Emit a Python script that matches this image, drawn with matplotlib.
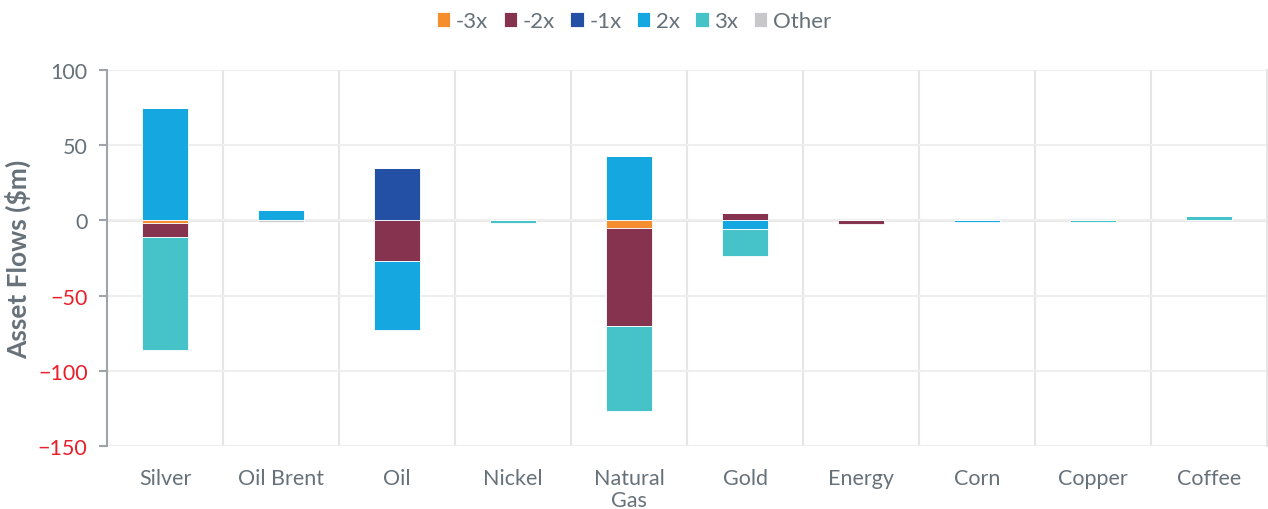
import numpy as np
import matplotlib.pyplot as plt
from matplotlib.ticker import MultipleLocator, FixedLocator

categories = ["Silver", "Oil Brent", "Oil", "Nickel", "Natural\nGas",
              "Gold", "Energy", "Corn", "Copper", "Coffee"]
series = ["-3x", "-2x", "-1x", "2x", "3x", "Other"]
flows = {
    "-3x":   [-2, 0, 0, 0, -5, 0, 0, 0, 0, 0],
    "-2x":   [-9, 0, -27, 0, -65, 5, -2.5, 0, 0, 0],
    "-1x":   [0, 0, 35, 0, 0, 0, 0, 0, 0, 0],
    "2x":    [75, 7, -46, 0, 43, -6, 0, -0.8, 0, 0],
    "3x":    [-75, 0, 0, -2, -57, -18, 0, 0, -0.8, 3],
    "Other": [0, -1, 0, 0, 0, 0, 0, 0, 0, 0],
}
colors = {"-3x": "#F68D2E", "-2x": "#85334F", "-1x": "#2350A5",
          "2x": "#14A7E0", "3x": "#46C2C9", "Other": "#C8C8CB"}

txt = "#66717A"
plt.rcParams['font.family'] = ['Lato', 'DejaVu Sans']

fig = plt.figure(figsize=(12.68, 5.10), dpi=100)
ax = fig.add_axes([0.0844, 0.1235, 0.9148, 0.7375])

x = np.arange(len(categories))
pos = np.zeros(len(categories))
neg = np.zeros(len(categories))
for s in series:
    v = np.array(flows[s], dtype=float)
    bottom = np.where(v >= 0, pos, neg)
    ax.bar(x, v, 0.4, bottom=bottom, color=colors[s], label=s,
           edgecolor="white", linewidth=0.6, zorder=3)
    pos += np.where(v >= 0, v, 0)
    neg += np.where(v < 0, v, 0)

ax.set_ylim(-150, 100)
ax.set_xlim(-0.5, len(categories) - 0.5)
ax.yaxis.set_major_locator(MultipleLocator(50))
ax.set_xticks(x)
ax.set_xticklabels(categories, fontsize=15.5, color=txt, linespacing=1.1)
ax.xaxis.set_minor_locator(FixedLocator(np.arange(0.5, len(categories), 1)))
ax.tick_params(axis="x", which="both", length=0, pad=16)
ax.tick_params(axis="y", length=6, width=1.5, color="#A0A4A8", labelsize=15.5, pad=8)
for lbl, val in zip(ax.get_yticklabels(), ax.get_yticks()):
    lbl.set_color("#E8202A" if val < 0 else txt)

ax.grid(axis="y", color="#EEEEEE", linewidth=1.5, zorder=0)
ax.grid(axis="x", which="minor", color="#E6E6E6", linewidth=1.5, zorder=0)
ax.axhline(0, color="#E6E6E6", linewidth=2, zorder=1)
for side in ["top", "bottom"]:
    ax.spines[side].set_visible(False)
ax.spines["right"].set_color("#E6E6E6")
ax.spines["right"].set_linewidth(1.5)
ax.spines["left"].set_color("#A0A4A8")
ax.spines["left"].set_linewidth(1.5)

ax.set_ylabel("Asset Flows ($m)", fontsize=19, fontweight="bold", color=txt, labelpad=5)

fig.legend(loc="upper center", bbox_to_anchor=(0.5, 1.015), ncol=6, frameon=False,
           fontsize=16, handlelength=0.6, handleheight=0.6, handletextpad=0.25,
           columnspacing=0.7, labelcolor=txt)

fig.savefig("out.png", dpi=100)
